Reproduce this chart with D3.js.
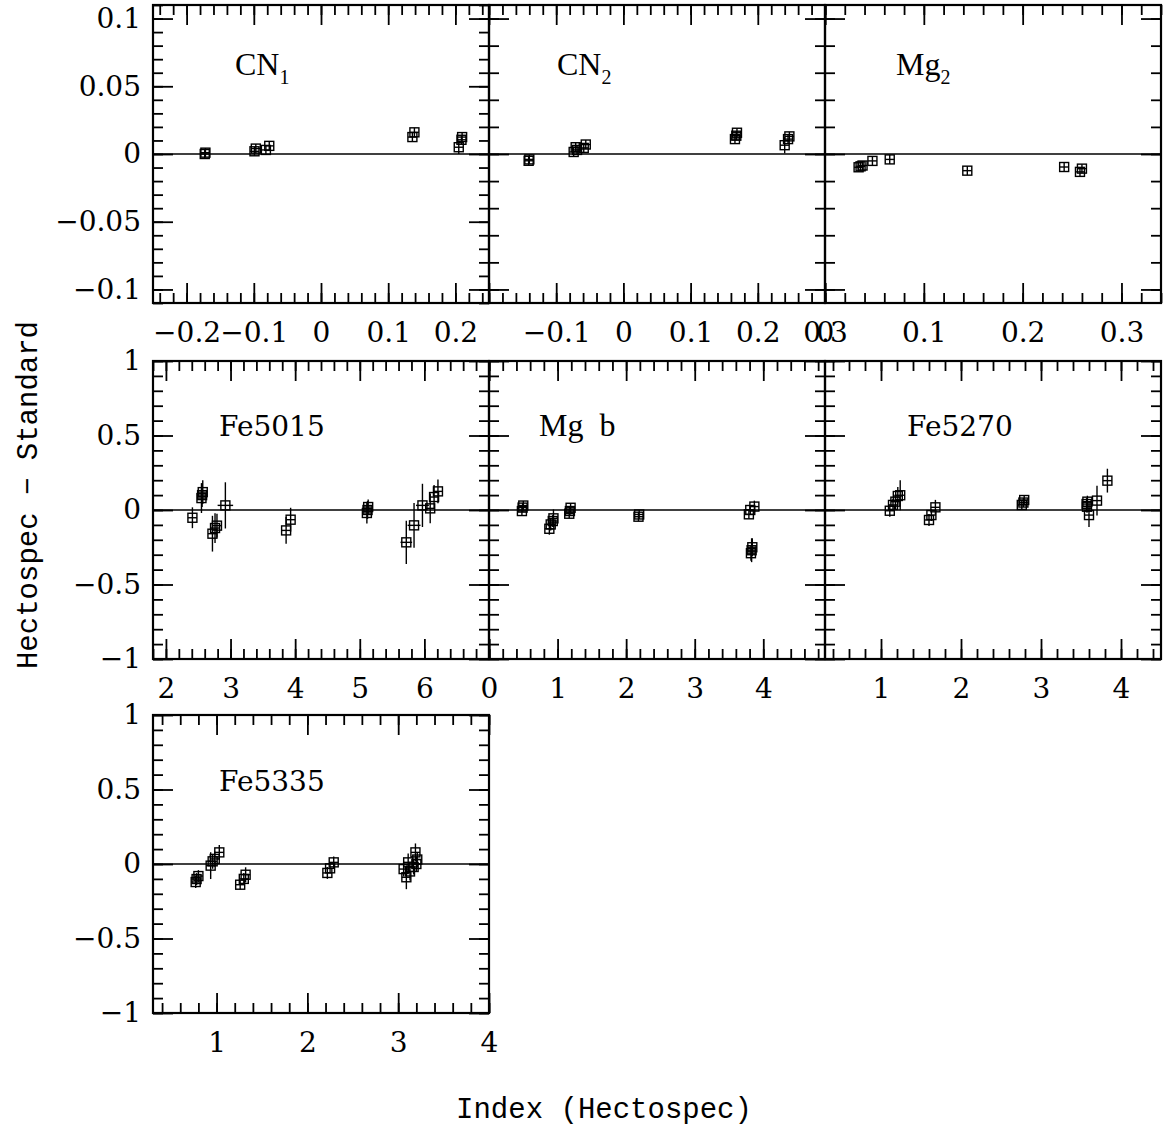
<!DOCTYPE html>
<html>
<head>
<meta charset="utf-8">
<script src="https://cdn.jsdelivr.net/npm/d3@7/dist/d3.min.js"></script>
<style>
    body { margin: 0; background: #fff; }
    svg { display: block; }
    .tick-label text, .lab { font-family: "DejaVu Serif", serif; font-size: 28px; fill: #000; }
    .name { font-family: "Liberation Serif", serif; font-size: 32px; fill: #000; white-space: pre; }
    .mono { font-family: "Liberation Mono", monospace; font-size: 29px; fill: #000; white-space: pre; }
</style>
</head>
<body>
<svg id="chart" width="1163" height="1131"></svg>
<script>
// CN1 (Hectospec index, difference, error);
const cn1X = [-0.173, -0.172, -0.099, -0.097, -0.082, -0.077, 0.136, 0.139, 0.205, 0.209, 0.210];
const cn1Y = [0.000, 0.001, 0.002, 0.004, 0.003, 0.006, 0.0125, 0.016, 0.005, 0.0105, 0.0125];
const cn1Err = [0.001, 0.001, 0.002, 0.002, 0.002, 0.002, 0.002, 0.002, 0.005, 0.003, 0.003];

// CN2;
const cn2X = [-0.141, -0.140, -0.074, -0.071, -0.069, -0.059, -0.056, 0.166, 0.168, 0.169, 0.240, 0.245, 0.247];
const cn2Y = [-0.005, -0.004, 0.0015, 0.005, 0.003, 0.0045, 0.007, 0.011, 0.0135, 0.0157, 0.0065, 0.011, 0.013];
const cn2Err = [0.001, 0.001, 0.002, 0.002, 0.002, 0.002, 0.002, 0.002, 0.002, 0.002, 0.006, 0.003, 0.003];

// Mg2;
const mg2X = [0.034, 0.036, 0.038, 0.048, 0.0655, 0.144, 0.242, 0.258, 0.260];
const mg2Y = [-0.0098, -0.0091, -0.0085, -0.0051, -0.004, -0.0123, -0.0096, -0.0132, -0.0108];
const mg2Err = [0.001, 0.001, 0.001, 0.001, 0.001, 0.001, 0.001, 0.001, 0.001];

// Fe5015;
const fe5015X = [2.41, 2.55, 2.56, 2.57, 2.72, 2.76, 2.79, 2.92, 3.86, 3.93, 5.11, 5.12, 5.13, 5.72, 5.84, 5.97, 6.09, 6.15, 6.21];
const fe5015Y = [-0.052, 0.08, 0.10, 0.12, -0.159, -0.121, -0.105, 0.031, -0.137, -0.065, -0.02, 0.0, 0.02, -0.217, -0.103, 0.031, 0.011, 0.087, 0.125];
const fe5015Err = [0.07, 0.1, 0.08, 0.08, 0.12, 0.1, 0.08, 0.155, 0.09, 0.08, 0.07, 0.06, 0.05, 0.145, 0.15, 0.145, 0.1, 0.08, 0.08];
const fe5015XErr = [0, 0, 0, 0, 0, 0, 0, 0.12, 0, 0, 0, 0, 0, 0.09, 0.1, 0.1, 0, 0, 0];

// Mg b;
const mgbX = [0.48, 0.49, 0.50, 0.88, 0.90, 0.93, 0.94, 1.17, 1.18, 1.19, 2.18, 2.19, 3.79, 3.81, 3.87, 3.82, 3.83, 3.84];
const mgbY = [-0.007, 0.016, 0.03, -0.126, -0.097, -0.074, -0.056, -0.025, -0.007, 0.015, -0.045, -0.03, -0.029, 0.0, 0.023, -0.29, -0.27, -0.25];
const mgbErr = [0.03, 0.03, 0.03, 0.04, 0.04, 0.04, 0.06, 0.02, 0.02, 0.02, 0.02, 0.02, 0.03, 0.03, 0.04, 0.05, 0.08, 0.06];

// Fe5270;
const fe5270X = [1.11, 1.15, 1.18, 1.21, 1.24, 1.60, 1.63, 1.68, 2.76, 2.78, 2.79, 3.57, 3.575, 3.58, 3.60, 3.70, 3.83];
const fe5270Y = [-0.005, 0.034, 0.056, 0.094, 0.099, -0.067, -0.034, 0.018, 0.034, 0.05, 0.067, 0.04, 0.022, 0.056, -0.034, 0.063, 0.197];
const fe5270Err = [0.04, 0.04, 0.05, 0.06, 0.1, 0.04, 0.04, 0.05, 0.03, 0.03, 0.03, 0.04, 0.04, 0.04, 0.08, 0.1, 0.08];

// Fe5335;
const fe5335X = [0.77, 0.78, 0.80, 0.935, 0.957, 0.98, 1.03, 1.26, 1.30, 1.32, 2.22, 2.25, 2.29, 3.06, 3.09, 3.11, 3.13, 3.17, 3.19, 3.20, 3.21];
const fe5335Y = [-0.121, -0.101, -0.081, -0.011, 0.018, 0.034, 0.078, -0.139, -0.1, -0.072, -0.060, -0.029, 0.011, -0.034, -0.089, 0.011, -0.05, -0.02, 0.078, 0.0, 0.03];
const fe5335Err = [0.04, 0.04, 0.04, 0.09, 0.05, 0.05, 0.05, 0.03, 0.04, 0.05, 0.04, 0.03, 0.04, 0.05, 0.08, 0.06, 0.06, 0.05, 0.06, 0.05, 0.05];

// Tick labels;
const cn1Ticks = [-0.2, -0.1, 0, 0.1, 0.2];
const cn2Ticks = [-0.1, 0, 0.1, 0.2, 0.3];
const mg2Ticks = [0, 0.1, 0.2, 0.3];
const fe5015Ticks = [2, 3, 4, 5, 6];
const mgbTicks = [0, 1, 2, 3, 4];
const fe5270Ticks = [1, 2, 3, 4];
const fe5335Ticks = [1, 2, 3, 4];
const smallYTicks = [0.1, 0.05, 0, -0.05, -0.1];
const bigYTicks = [1, 0.5, 0, -0.5, -1];

const panels = [
    { name: 'CN', sub: '1', col: 0, row: 0, xd: [-0.25, 0.25], yd: [-0.11, 0.11], xs: cn1X, ys: cn1Y, es: cn1Err,
      xTicks: cn1Ticks, xMinor: 0.02, xMajor: 0.1, yTicks: smallYTicks, yMinor: 0.01, yMajor: 0.05, yLabels: true, lx: 235, ly: 75 },
    { name: 'CN', sub: '2', col: 1, row: 0, xd: [-0.2, 0.3], yd: [-0.11, 0.11], xs: cn2X, ys: cn2Y, es: cn2Err,
      xTicks: cn2Ticks, xMinor: 0.02, xMajor: 0.1, yMinor: 0.02, yMajor: 0.1, lx: 557, ly: 75 },
    { name: 'Mg', sub: '2', col: 2, row: 0, xd: [0, 0.34], yd: [-0.11, 0.11], xs: mg2X, ys: mg2Y, es: mg2Err,
      xTicks: mg2Ticks, xMinor: 0.02, xMajor: 0.1, yMinor: 0.02, yMajor: 0.1, lx: 896, ly: 75 },
    { name: 'Fe5015', col: 0, row: 1, xd: [1.8, 7], yd: [-1, 1], xs: fe5015X, ys: fe5015Y, es: fe5015Err, xe: fe5015XErr,
      xTicks: fe5015Ticks, xMinor: 0.2, xMajor: 1, yTicks: bigYTicks, yMinor: 0.1, yMajor: 0.5, yLabels: true, lx: 219, ly: 436, mono: true },
    { name: 'Mg  b', col: 1, row: 1, xd: [0, 4.9], yd: [-1, 1], xs: mgbX, ys: mgbY, es: mgbErr,
      xTicks: mgbTicks, xMinor: 0.2, xMajor: 1, yMinor: 0.1, yMajor: 0.5, lx: 539, ly: 436 },
    { name: 'Fe5270', col: 2, row: 1, xd: [0.3, 4.5], yd: [-1, 1], xs: fe5270X, ys: fe5270Y, es: fe5270Err,
      xTicks: fe5270Ticks, xMinor: 0.2, xMajor: 1, yMinor: 0.1, yMajor: 0.5, lx: 907, ly: 436, mono: true },
    { name: 'Fe5335', col: 0, row: 2, xd: [0.3, 4], yd: [-1, 1], xs: fe5335X, ys: fe5335Y, es: fe5335Err,
      xTicks: fe5335Ticks, xMinor: 0.2, xMajor: 1, yTicks: bigYTicks, yMinor: 0.1, yMajor: 0.5, yLabels: true, lx: 219, ly: 791, mono: true }
];

const colX = [153, 489, 825];
const rowY = [5, 361, 715];
const pw = 336;
const ph = 298;
const box = 9;

const svg = d3.select('#chart');

// Steps inside a domain, rounded to avoid float noise;
function steps(domain, step) {
    const out = [];
    const start = Math.ceil(domain[0] / step - 1e-6);
    const end = Math.floor(domain[1] / step + 1e-6);
    for (let i = start; i <= end; i++) out.push(+(i * step).toFixed(6));
    return out;
}

function fmt(v) {
    return v < 0 ? '\u2212' + String(-v) : String(v);
}

function drawPanel(p) {
    const g = svg.append('g').attr('transform', `translate(${colX[p.col]},${rowY[p.row]})`);
    const x = d3.scaleLinear().domain(p.xd).range([0, pw]);
    const y = d3.scaleLinear().domain(p.yd).range([ph, 0]);

    const xMaj = steps(p.xd, p.xMajor);
    const xMin = steps(p.xd, p.xMinor);
    const yMaj = steps(p.yd, p.yMajor);
    const yMin = steps(p.yd, p.yMinor);

    // Inward ticks on all four sides;
    const sides = [
        [d3.axisBottom, x, 0, ph, xMin, xMaj],
        [d3.axisTop, x, 0, 0, xMin, xMaj],
        [d3.axisLeft, y, 0, 0, yMin, yMaj],
        [d3.axisRight, y, pw, 0, yMin, yMaj]
    ];
    sides.forEach(([axisFn, sc, tx, ty, minor, major]) => {
        [[minor, -10], [major, -20]].forEach(([vals, size]) => {
            const a = g.append('g')
                .attr('transform', `translate(${tx},${ty})`)
                .call(axisFn(sc).tickValues(vals).tickSize(size).tickFormat(''));
            a.select('.domain').remove();
            a.selectAll('line').attr('stroke', '#000').attr('stroke-width', 1.8);
        });
    });

    // Tick labels;
    const xl = g.append('g')
        .attr('class', 'tick-label')
        .attr('transform', `translate(0,${ph})`)
        .call(d3.axisBottom(x).tickValues(p.xTicks).tickSize(0).tickPadding(19).tickFormat(fmt));
    xl.select('.domain').remove();
    xl.selectAll('text').attr('fill', '#000').attr('font-family', null).attr('font-size', null);

    if (p.yLabels) {
        const yl = g.append('g')
            .attr('class', 'tick-label')
            .call(d3.axisLeft(y).tickValues(p.yTicks).tickSize(0).tickPadding(12).tickFormat(fmt));
        yl.select('.domain').remove();
        yl.selectAll('text').attr('fill', '#000').attr('font-family', null).attr('font-size', null);
    }

    // Zero line;
    g.append('line')
        .attr('x1', 0).attr('x2', pw)
        .attr('y1', y(0)).attr('y2', y(0))
        .attr('stroke', '#000').attr('stroke-width', 1.5);

    // Frame;
    g.append('rect')
        .attr('width', pw).attr('height', ph)
        .attr('fill', 'none').attr('stroke', '#000').attr('stroke-width', 2.2);

    // Points with error bars;
    const pts = p.xs.map((v, i) => ({ x: v, y: p.ys[i], e: p.es[i], xe: p.xe ? p.xe[i] : 0 }));
    const pt = g.selectAll('.pt').data(pts).enter().append('g')
        .attr('class', 'pt')
        .attr('transform', (d) => `translate(${x(d.x)},${y(d.y)})`);
    pt.append('rect')
        .attr('x', -box / 2).attr('y', -box / 2)
        .attr('width', box).attr('height', box)
        .attr('fill', 'none').attr('stroke', '#000').attr('stroke-width', 1.4);
    pt.append('line')
        .attr('x1', 0).attr('x2', 0)
        .attr('y1', (d) => Math.min(-box / 2, y(d.y + d.e) - y(d.y)))
        .attr('y2', (d) => Math.max(box / 2, y(d.y - d.e) - y(d.y)))
        .attr('stroke', '#000').attr('stroke-width', 1.4);
    pt.append('line')
        .attr('y1', 0).attr('y2', 0)
        .attr('x1', (d) => Math.min(-box / 2, x(d.x - d.xe) - x(d.x)))
        .attr('x2', (d) => Math.max(box / 2, x(d.x + d.xe) - x(d.x)))
        .attr('stroke', '#000').attr('stroke-width', 1.4);

    // Panel name;
    const t = g.append('text')
        .attr('class', p.mono ? 'lab' : 'name')
        .attr('x', p.lx - colX[p.col])
        .attr('y', p.ly - rowY[p.row])
        .text(p.name);
    if (p.sub) {
        t.append('tspan').attr('dy', 9).attr('font-size', 20).text(p.sub);
    }
}

panels.forEach(drawPanel);

// Axis titles;
svg.append('text')
    .attr('class', 'mono')
    .attr('text-anchor', 'middle')
    .attr('x', 604).attr('y', 1118)
    .text('Index (Hectospec)');

svg.append('text')
    .attr('class', 'mono')
    .attr('text-anchor', 'middle')
    .attr('transform', 'translate(37,495) rotate(-90)')
    .text('Hectospec \u2212 Standard');
</script>
</body>
</html>
